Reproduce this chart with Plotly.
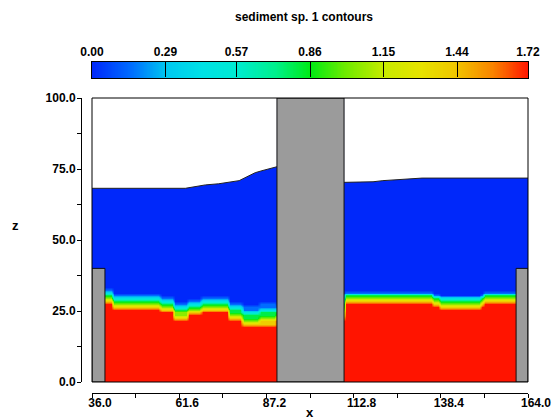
import numpy as np
import plotly.graph_objects as go

W, H = 557, 419

# ---------------- data ----------------
cb_ticks = [0.00, 0.29, 0.57, 0.86, 1.15, 1.44, 1.72]
cb_labels = ["0.00", "0.29", "0.57", "0.86", "1.15", "1.44", "1.72"]

x_ticks = [36.0, 48.8, 61.6, 74.4, 87.2, 100.0, 112.8, 125.6, 138.4, 151.2, 164.0]
x_labels = ["36.0", "", "61.6", "", "87.2", "", "112.8", "", "138.4", "", "164.0"]
z_ticks = [0, 12.5, 25, 37.5, 50, 62.5, 75, 87.5, 100]
z_labels = ["0.0", "", "25.0", "", "50.0", "", "75.0", "", "100.0"]

x_min, x_max = 36.0, 164.0
z_min, z_max = 0.0, 100.0

# settled sediment bed: segment start x, bed top z, thickness of mixing layer
bed_start = [36.0, 42.2, 56.0, 60.4, 64.5, 68.3, 76.2, 80.3, 85.0, 90.3,
             110.0, 136.2, 137.6, 149.8, 151.2]
bed_top = [28.5, 26.5, 24.6, 22.3, 24.0, 24.6, 22.0, 19.6, 20.5, 22.0,
           28.3, 27.4, 26.5, 27.4, 28.3]
bed_mix = [4.8, 5.0, 5.0, 5.5, 5.0, 5.0, 6.0, 7.0, 7.5, 5.0,
           3.8, 3.8, 3.8, 3.8, 3.8]
mix_levels = [1.40, 1.05, 0.80, 0.45, 0.15]   # concentration in layer bins above bed
c_bed = 1.72
c_water = 0.0

# free surface
surf_lx = [36.0, 63.4, 69.3, 73.2, 79.2, 83.9, 85.9, 90.3]
surf_lz = [68.2, 68.2, 69.4, 69.8, 70.9, 73.7, 74.4, 75.8]
surf_rx = [110.0, 118.5, 121.4, 132.9, 164.0]
surf_rz = [70.3, 70.5, 70.9, 71.8, 71.8]

# obstacles
obst_x0 = [36.0, 90.3, 160.5]
obst_x1 = [39.8, 110.0, 164.0]
obst_top = [40.0, 100.0, 40.0]

colorscale = [
    [0.00, "rgb(0,40,250)"],
    [0.09, "rgb(0,110,255)"],
    [0.17, "rgb(0,200,240)"],
    [0.25, "rgb(0,225,230)"],
    [0.33, "rgb(0,235,210)"],
    [0.42, "rgb(0,240,140)"],
    [0.50, "rgb(0,235,20)"],
    [0.58, "rgb(110,235,0)"],
    [0.67, "rgb(200,235,0)"],
    [0.75, "rgb(230,228,0)"],
    [0.83, "rgb(240,200,0)"],
    [0.92, "rgb(250,130,0)"],
    [1.00, "rgb(255,20,0)"],
]

# ---------------- field ----------------
xc = np.arange(x_min + 0.5, x_max, 1.0)
zc = np.arange(z_min + 0.5, z_max, 1.0)
seg = np.searchsorted(bed_start, xc, side="right") - 1
top = np.array(bed_top)[seg]
mix = np.array(bed_mix)[seg]
d = zc[:, None] - top[None, :]
k = np.floor(d / mix[None, :] * len(mix_levels)).astype(int)
field = np.where(d < 0, c_bed, c_water).astype(float)
inside = (k >= 0) & (k < len(mix_levels))
field[inside] = np.array(mix_levels)[k[inside]]

FAM = "Liberation Sans, Arial, sans-serif"
font_b = dict(family=FAM, size=12, color="black", weight="bold")

fig = go.Figure()
fig.add_trace(go.Heatmap(x=xc, y=zc, z=field, colorscale=colorscale, zmin=0, zmax=1.72,
                         zsmooth="best", showscale=False, hoverinfo="skip",
                         xaxis="x", yaxis="y"))

# empty region above free surface
for sx, sz in [(surf_lx, surf_lz), (surf_rx, surf_rz)]:
    fig.add_trace(go.Scatter(x=sx, y=[z_max] * len(sx), mode="lines",
                             line=dict(width=0, color="white"), showlegend=False,
                             hoverinfo="skip"))
    fig.add_trace(go.Scatter(x=sx, y=sz, mode="lines", fill="tonexty", fillcolor="white",
                             line=dict(width=1, color="#222222"), showlegend=False,
                             hoverinfo="skip"))

# obstacles
for x0, x1, tp in zip(obst_x0, obst_x1, obst_top):
    fig.add_trace(go.Scatter(x=[x0, x0, x1, x1, x0], y=[z_min, tp, tp, z_min, z_min],
                             mode="lines", fill="toself", fillcolor="#9b9b9b",
                             line=dict(width=1, color="#111111"), showlegend=False,
                             hoverinfo="skip"))

# colour key
key_vals = np.linspace(cb_ticks[0], cb_ticks[-1], 300)
fig.add_trace(go.Heatmap(x=key_vals, y=[0], z=[key_vals], colorscale=colorscale,
                         zmin=0, zmax=1.72, zsmooth="best", showscale=False,
                         hoverinfo="skip", xaxis="x3", yaxis="y3"))

def ann(text, px, py, size):
    return dict(text=text, x=px / W, y=1 - py / H, xref="paper", yref="paper",
                xanchor="center", yanchor="middle", showarrow=False,
                font=dict(family=FAM, size=size, color="black", weight="bold"))

fig.update_layout(
    template="none",
    width=W, height=H,
    margin=dict(l=0, r=0, t=0, b=0, pad=0),
    paper_bgcolor="white", plot_bgcolor="white",
    showlegend=False,
    xaxis=dict(domain=[92 / W, 528 / W], range=[x_min, x_max], anchor="free",
               position=(H - 393) / H, showline=True, linecolor="black", linewidth=1,
               ticks="outside", ticklen=4, tickcolor="black", tickvals=x_ticks,
               ticktext=x_labels, tickfont=font_b, showgrid=False, zeroline=False,
               ticklabelshift=8, ticklabelstandoff=-5, automargin=False),
    yaxis=dict(domain=[1 - 382 / H, 1 - 98 / H], range=[z_min, z_max], anchor="free",
               position=81 / W, showline=True, linecolor="black", linewidth=1,
               ticks="outside", ticklen=4, tickcolor="black", tickvals=z_ticks,
               ticktext=z_labels, tickfont=font_b, showgrid=False, zeroline=False,
               ticklabelstandoff=-1, automargin=False),
    xaxis3=dict(domain=[92 / W, 528 / W], range=[cb_ticks[0], cb_ticks[-1]], anchor="y3",
                side="top", showline=True, mirror=True, linecolor="black", linewidth=1,
                ticks="inside", ticklen=15, tickcolor="black", tickwidth=1,
                tickvals=cb_ticks, ticktext=cb_labels, tickfont=font_b,
                showgrid=False, zeroline=False, automargin=False),
    yaxis3=dict(domain=[1 - 78 / H, 1 - 62 / H], range=[-0.5, 0.5], anchor="x3",
                showline=True, mirror=True, linecolor="black", linewidth=1,
                showticklabels=False, ticks="", showgrid=False, zeroline=False,
                automargin=False),
    shapes=[dict(type="rect", xref="x domain", yref="y domain", x0=0, x1=1, y0=0, y1=1,
                 line=dict(color="black", width=1), layer="above")],
    annotations=[
        ann("sediment sp. 1 contours", 304, 17, 12),
        ann("z", 15, 225, 13),
        ann("x", 310, 412, 13),
    ],
)

fig.write_html("out.html", config={"displayModeBar": False},
               post_script="document.body.style.margin='0';document.body.style.overflow='hidden';")
